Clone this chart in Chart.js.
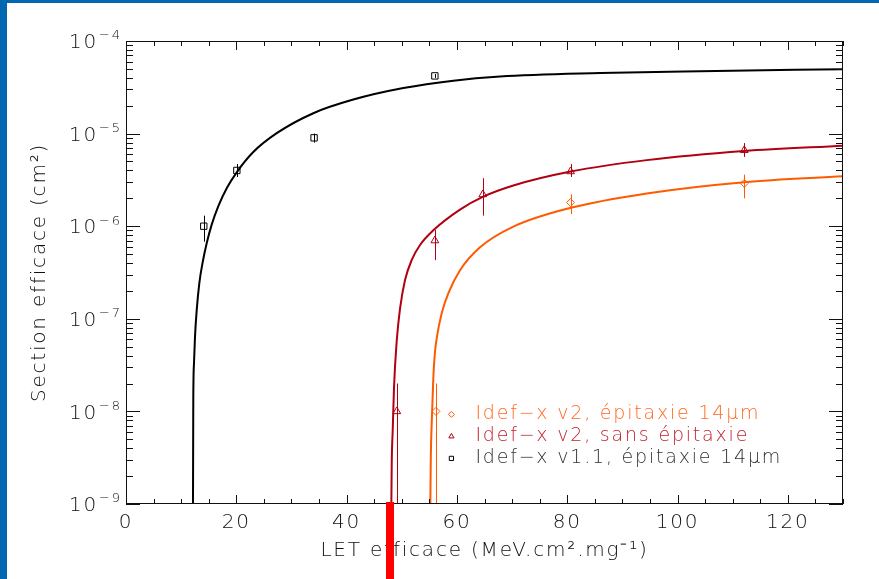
<!DOCTYPE html>
<html>
<head>
<meta charset="utf-8">
<script src="https://cdn.jsdelivr.net/npm/chart.js@4.4.1/dist/chart.umd.min.js"></script>
<style>
  html, body { margin: 0; padding: 0; background: #0067b1; overflow: hidden; }
  #cadre { position: absolute; left: 7px; top: 3px; width: 872px; height: 576px; background: #fff; }
</style>
</head>
<body>
<div id="cadre"><canvas id="canvas-1" width="872" height="576"></canvas></div>
<script>
'use strict';

// points mesures : Idef-x v1.1, epitaxie 14um
var letV11 = [14.1, 20.1, 34.1, 56.0];
var sigV11 = [1.0e-6, 4.0e-6, 9.0e-6, 4.2e-5];
var sigV11Min = [6.8e-7, 3.4e-6, 8.0e-6, 4.0e-5];
var sigV11Max = [1.3e-6, 4.7e-6, 1.0e-5, 4.4e-5];

// Idef-x v2, sans epitaxie
var letV2Sans = [49.1, 56.0, 64.7, 80.6, 112.1];
var sigV2Sans = [1.0e-8, 7.0e-7, 2.2e-6, 3.9e-6, 6.6e-6];
var sigV2SansMin = [1e-10, 4.3e-7, 1.3e-6, 3.4e-6, 5.6e-6];
var sigV2SansMax = [2.0e-8, 9.1e-7, 3.3e-6, 4.7e-6, 7.9e-6];

// Idef-x v2, epitaxie 14um
var letV2Epi = [56.2, 80.6, 112.1];
var sigV2Epi = [1.0e-8, 1.8e-6, 2.9e-6];
var sigV2EpiMin = [1e-10, 1.35e-6, 2.0e-6];
var sigV2EpiMax = [2.0e-8, 2.2e-6, 3.6e-6];

// courbes de fit
var fitV11Let = [12.1, 12.2, 12.33, 12.51, 12.82, 13.29, 13.91, 14.63, 15.54, 16.74, 18.31, 20.07, 23.08, 27.33, 33.96, 41.22, 50.28, 59.35, 67.81, 85.95, 104.1, 130];
var fitV11Sig = [1e-10, 1.33e-8, 3.33e-8, 6.41e-8, 1.24e-7, 2.42e-7, 4.11e-7, 6.56e-7, 1.04e-6, 1.65e-6, 2.60e-6, 3.82e-6, 6.32e-6, 1.01e-5, 1.66e-5, 2.33e-5, 3.10e-5, 3.73e-5, 4.13e-5, 4.50e-5, 4.72e-5, 4.96e-5];

var fitV2SansLet = [47.96, 48.18, 48.36, 48.59, 49.08, 49.68, 50.59, 51.81, 53.31, 55.72, 60.56, 64.68, 70.23, 80.63, 94.41, 112.1, 130];
var fitV2SansSig = [1e-10, 2.75e-9, 6.3e-9, 1.79e-8, 5.75e-8, 1.28e-7, 2.62e-7, 4.32e-7, 6.26e-7, 9.02e-7, 1.51e-6, 2.07e-6, 2.75e-6, 3.89e-6, 5.17e-6, 6.49e-6, 7.41e-6];

var fitV2EpiLet = [55.03, 55.25, 55.48, 55.72, 55.99, 56.34, 57.24, 58.44, 60.56, 64.19, 70.23, 80.63, 94.41, 112.1, 130];
var fitV2EpiSig = [1e-10, 2.75e-9, 9.14e-9, 2.3e-8, 4.17e-8, 6.21e-8, 1.15e-7, 1.88e-7, 3.34e-7, 5.91e-7, 9.89e-7, 1.58e-6, 2.26e-6, 2.99e-6, 3.46e-6];

var seuilLet = 47.9;   // trait rouge sous l'axe
var xTickLabels = [0, 20, 40, 60, 80, 100, 120];
var yDecades = [-9, -8, -7, -6, -5, -4];

var police = '"DejaVu Sans", "Liberation Sans", sans-serif';
var encre = '#111111';
var espacement = '1.8px';

var series = [
  { label: 'Idef\u2212x v2, \u00e9pitaxie 14\u03bcm', color: '#ff5a00', texte: '#ff6a20', style: 'rectRot', radius: 4,
    let: letV2Epi, sig: sigV2Epi, min: sigV2EpiMin, max: sigV2EpiMax, fitLet: fitV2EpiLet, fitSig: fitV2EpiSig },
  { label: 'Idef\u2212x v2, sans \u00e9pitaxie', color: '#b00012', texte: '#c02030', style: 'triangle', radius: 4.5,
    let: letV2Sans, sig: sigV2Sans, min: sigV2SansMin, max: sigV2SansMax, fitLet: fitV2SansLet, fitSig: fitV2SansSig },
  { label: 'Idef\u2212x v1.1, \u00e9pitaxie 14\u03bcm', color: '#000000', texte: '#333333', style: 'rect', radius: 4.5,
    let: letV11, sig: sigV11, min: sigV11Min, max: sigV11Max, fitLet: fitV11Let, fitSig: fitV11Sig }
];

function toXY(xs, ys) {
  return xs.map(function (x, i) { return { x: x, y: ys[i] }; });
}

var datasets = [];
series.forEach(function (s) {
  datasets.push({
    label: s.label + ' (fit)',
    data: toXY(s.fitLet, s.fitSig),
    showLine: true,
    borderColor: s.color,
    borderWidth: 2,
    pointRadius: 0,
    cubicInterpolationMode: 'monotone'
  });
});
series.forEach(function (s) {
  datasets.push({
    label: s.label,
    data: toXY(s.let, s.sig),
    showLine: false,
    borderColor: s.color,
    backgroundColor: 'rgba(0,0,0,0)',
    borderWidth: 1,
    pointStyle: s.style,
    pointRadius: s.radius,
    errMin: s.min,
    errMax: s.max,
    texte: s.texte,
    legende: true
  });
});

var sup = { '-': '\u2212', '0': '0', '1': '1', '2': '2', '3': '3', '4': '4', '5': '5', '6': '6', '7': '7', '8': '8', '9': '9' };

var cadrePlugin = {
  id: 'cadre',
  beforeUpdate: function (chart) { chart.ctx.letterSpacing = espacement; },
  beforeDraw: function (chart) { chart.ctx.letterSpacing = espacement; },
  afterDatasetsDraw: function (chart) {
    var ctx = chart.ctx, xs = chart.scales.x, ys = chart.scales.y, a = chart.chartArea;
    ctx.save();
    ctx.beginPath();
    ctx.rect(a.left, a.top, a.right - a.left, a.bottom - a.top);
    ctx.clip();
    ctx.lineWidth = 1;
    chart.data.datasets.forEach(function (ds) {
      if (!ds.errMin) return;
      ctx.strokeStyle = ds.borderColor;
      ds.data.forEach(function (p, i) {
        var px = Math.round(xs.getPixelForValue(p.x)) + 0.5;
        ctx.beginPath();
        ctx.moveTo(px, ys.getPixelForValue(ds.errMin[i]));
        ctx.lineTo(px, ys.getPixelForValue(ds.errMax[i]));
        ctx.stroke();
      });
    });
    ctx.restore();
  },
  afterDraw: function (chart) {
    var ctx = chart.ctx, xs = chart.scales.x, ys = chart.scales.y, a = chart.chartArea;
    ctx.save();
    ctx.strokeStyle = encre;
    ctx.lineWidth = 1;
    ctx.strokeRect(a.left + 0.5, a.top + 0.5, a.right - a.left - 1, a.bottom - a.top - 1);

    // graduations interieures
    ctx.beginPath();
    for (var v = 0; v <= 130; v += 5) {
      var px = Math.round(xs.getPixelForValue(v)) + 0.5;
      var len = (v % 20 === 0) ? 9 : 5;
      ctx.moveTo(px, a.bottom); ctx.lineTo(px, a.bottom - len);
      ctx.moveTo(px, a.top); ctx.lineTo(px, a.top + len);
    }
    yDecades.forEach(function (e) {
      for (var m = 1; m <= 9; m++) {
        var val = m * Math.pow(10, e);
        if (val > 1.0001e-4) break;
        var py = Math.round(ys.getPixelForValue(val)) + 0.5;
        var l = (m === 1) ? 14 : 7;
        ctx.moveTo(a.left, py); ctx.lineTo(a.left + l, py);
        ctx.moveTo(a.right, py); ctx.lineTo(a.right - l, py);
      }
    });
    ctx.stroke();

    // etiquettes de l'axe y : 10^n
    ctx.fillStyle = encre;
    ctx.letterSpacing = espacement;
    yDecades.forEach(function (e) {
      var py = ys.getPixelForValue(Math.pow(10, e));
      ctx.font = '200 20px ' + police;
      ctx.textAlign = 'right';
      ctx.textBaseline = 'middle';
      ctx.fillText('10', a.left - 28, py + 2);
      ctx.font = '200 13px ' + police;
      ctx.textAlign = 'left';
      var ex = String(e).split('').map(function (c) { return sup[c]; }).join('');
      ctx.fillText(ex, a.left - 27, py - 5);
    });

    // legende dans le cadre
    var lx = xs.getPixelForValue(59.0);
    var ly = ys.getPixelForValue(1e-8);
    var items = chart.data.datasets.filter(function (d) { return d.legende; });
    items.forEach(function (d, i) {
      var yy = ly + 3 + i * 22;
      ctx.strokeStyle = d.borderColor;
      ctx.fillStyle = 'rgba(0,0,0,0)';
      Chart.helpers.drawPoint(ctx, { pointStyle: d.pointStyle, radius: 3, borderWidth: 1, rotation: 0 }, lx, yy);
      ctx.fillStyle = d.texte;
      ctx.font = '200 19px ' + police;
      ctx.textAlign = 'left';
      ctx.textBaseline = 'middle';
      ctx.fillText(d.label, lx + 24, yy);
    });

    // trait rouge du seuil
    var sx = xs.getPixelForValue(seuilLet);
    ctx.fillStyle = '#ff0000';
    ctx.fillRect(Math.round(sx) - 4, a.bottom - 2, 8, chart.height - a.bottom + 2);
    ctx.restore();
  }
};

var ctx = document.getElementById('canvas-1');
var chart = new Chart(ctx, {
  type: 'scatter',
  data: { datasets: datasets },
  options: {
    responsive: false,
    animation: false,
    devicePixelRatio: 1,
    layout: { padding: { top: 38, right: 36, bottom: 0, left: 0 } },
    plugins: { legend: { display: false }, tooltip: { enabled: false } },
    scales: {
      x: {
        type: 'linear',
        min: 0,
        max: 130,
        afterFit: function (scale) { scale.height = 75; },
        afterBuildTicks: function (scale) {
          scale.ticks = xTickLabels.map(function (v) { return { value: v }; });
        },
        grid: { display: false, drawTicks: false },
        border: { display: false },
        ticks: {
          padding: 7,
          color: encre,
          maxRotation: 0,
          font: { family: police, size: 20, weight: '200' }
        },
        title: {
          display: true,
          text: 'LET efficace (MeV.cm\u00b2.mg\u207b\u00b9)',
          color: encre,
          font: { family: police, size: 20, weight: '200' },
          padding: { top: 0, bottom: 16 }
        }
      },
      y: {
        type: 'logarithmic',
        min: 1e-9,
        max: 1e-4,
        afterFit: function (scale) { scale.width = 119; },
        grid: { display: false, drawTicks: false },
        border: { display: false },
        ticks: { display: false },
        title: {
          display: true,
          text: 'Section efficace (cm\u00b2)',
          color: encre,
          font: { family: police, size: 20, weight: '200' },
          padding: { top: 21, bottom: 0 }
        }
      }
    }
  },
  plugins: [cadrePlugin]
});
</script>
</body>
</html>
